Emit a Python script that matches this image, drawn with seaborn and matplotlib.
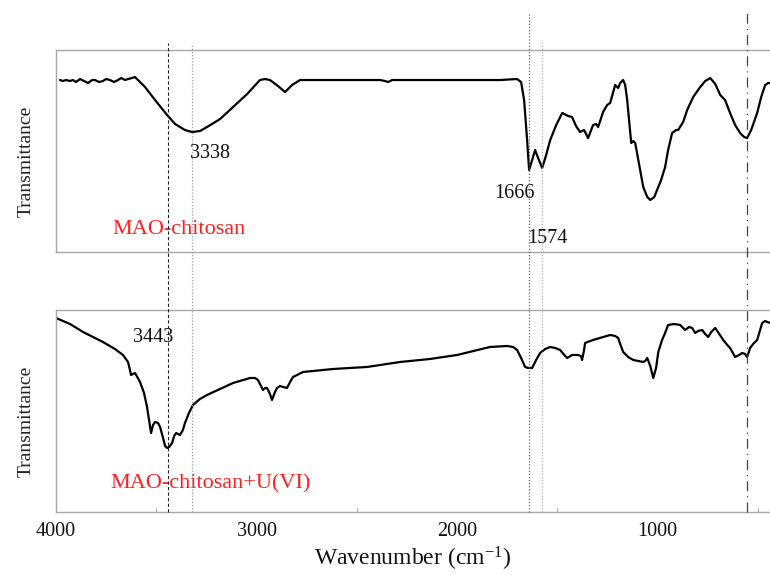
import matplotlib
matplotlib.use("Agg")
import matplotlib.pyplot as plt
import matplotlib.transforms as mtransforms
from matplotlib.lines import Line2D
from matplotlib.ticker import MultipleLocator
import seaborn as sns
import pandas as pd

# ---------------- data ----------------
top_wavenumber = [3980, 3965, 3950, 3930, 3915, 3900, 3880, 3860, 3840, 3820, 3805, 3785, 3766, 3750,
                  3731, 3710, 3691, 3675, 3656, 3640, 3621, 3606, 3556, 3506, 3446,
                  3406, 3357, 3322, 3282, 3247, 3182, 3117, 3047, 2983, 2958, 2933, 2893, 2858, 2823,
                  2783, 2633, 2384, 2359, 2344, 2324, 2085, 1786, 1701, 1681, 1666, 1651, 1641, 1626,
                  1611, 1596, 1576, 1556, 1536, 1506, 1476, 1446, 1427, 1407, 1387, 1367, 1347, 1322,
                  1307, 1297, 1272, 1252, 1237, 1212, 1197, 1187, 1172, 1162, 1152, 1132, 1122, 1112,
                  1092, 1072, 1052, 1037, 1017, 1003, 983, 963, 948, 928, 908, 898, 873, 853, 823,
                  788, 763, 738, 713, 688, 664, 639, 614, 589, 569, 554, 534, 504, 484, 464, 449, 439]
top_transmittance = [172, 171, 172, 171, 172, 170, 173, 171, 169, 172, 172, 170, 171, 173,
                     172, 170, 172, 174, 172, 173, 174, 175, 165, 152, 137,
                     128, 122, 120, 121, 125, 133, 145, 158, 172, 173, 172, 166, 160, 167,
                     172, 172, 172, 171, 170, 172, 172, 172, 173, 170, 152, 112, 82, 92,
                     102, 94, 84, 97, 112, 127, 139, 136, 135, 126, 120, 122, 114, 127,
                     128, 125, 140, 147, 149, 167, 164, 169, 172, 167, 152, 109, 111, 109,
                     87, 65, 55, 52, 55, 62, 72, 85, 102, 119, 122, 122, 130, 142, 155,
                     165, 171, 174, 168, 157, 152, 139, 127, 119, 115, 114, 122, 139, 155, 167, 169, 169]

bot_wavenumber = [4000, 3930, 3865, 3766, 3706, 3666, 3641, 3631, 3626, 3616, 3606, 3581, 3561, 3546,
                  3536, 3526, 3516, 3506, 3491, 3481, 3466, 3456, 3446, 3436, 3421, 3411, 3401, 3382,
                  3367, 3357, 3337, 3317, 3282, 3247, 3182, 3117, 3032, 3007, 2993, 2978, 2968, 2958,
                  2948, 2933, 2923, 2908, 2898, 2883, 2868, 2848, 2833, 2818, 2768, 2618, 2449, 2284,
                  2135, 2000, 1836, 1751, 1721, 1701, 1681, 1661, 1646, 1626, 1606, 1586, 1561, 1536,
                  1511, 1486, 1466, 1451, 1427, 1397, 1382, 1377, 1367, 1362, 1322, 1272, 1237, 1212,
                  1197, 1187, 1172, 1147, 1122, 1097, 1072, 1062, 1052, 1037, 1022, 1008, 997, 978,
                  963, 948, 918, 888, 863, 843, 828, 813, 798, 778, 763, 748, 733, 713, 693, 673,
                  653, 639, 614, 594, 579, 564, 554, 539, 524, 504, 489, 479, 464, 454, 439]
bot_transmittance = [194, 188, 180, 170, 163, 157, 150, 142, 137, 138, 139, 130, 119, 105,
                     92, 79, 87, 90, 89, 85, 74, 66, 64, 65, 69, 76, 79, 77,
                     82, 89, 99, 107, 113, 117, 123, 129, 134, 134, 132, 126, 122, 124,
                     124, 118, 112, 120, 124, 126, 125, 124, 130, 135, 140, 143, 145, 150,
                     153, 157, 165, 166, 165, 162, 154, 145, 144, 144, 152, 159, 163, 165,
                     164, 162, 157, 154, 157, 157, 156, 152, 162, 169, 172, 175, 177, 176,
                     174, 168, 160, 155, 152, 151, 150, 151, 154, 146, 134, 144, 160, 172,
                     179, 187, 188, 187, 182, 185, 184, 179, 181, 182, 178, 175, 180, 184, 178, 172,
                     167, 164, 155, 157, 159, 158, 155, 164, 168, 172, 182, 189, 191, 190, 189]

sample_names = ["MAO-chitosan", "MAO-chitosan+U(VI)"]
peak_labels_top = ["3338", "1666", "1574"]
peak_labels_bottom = ["3443"]
marker_lines = [3443, 3322, 1643, 1576, 555]
x_ticks = [4000, 3000, 2000, 1000]

# ---------------- styling ----------------
sns.set_theme(style="white")
plt.rcParams["font.family"] = ["Liberation Serif", "DejaVu Serif"]
plt.rcParams["mathtext.default"] = "regular"

fig = plt.figure(figsize=(7.7, 5.75), dpi=100)
ax_top = fig.add_axes([0.0727, 0.5617, 0.9273, 0.3513])
ax_bot = fig.add_axes([0.0727, 0.1096, 0.9273, 0.3513])

df_top = pd.DataFrame({"wn": top_wavenumber, "T": top_transmittance})
df_bot = pd.DataFrame({"wn": bot_wavenumber, "T": bot_transmittance})
sns.lineplot(data=df_top, x="wn", y="T", ax=ax_top, color="black", lw=1.6, sort=False)
sns.lineplot(data=df_bot, x="wn", y="T", ax=ax_bot, color="black", lw=1.6, sort=False)

spine_col = "#a8a8a8"
for ax in (ax_top, ax_bot):
    ax.set_xlim(4000, 440)
    ax.set_ylim(0, 202)
    ax.set_yticks([])
    ax.spines["right"].set_visible(False)
    for s in ("top", "left", "bottom"):
        ax.spines[s].set_color(spine_col)
        ax.spines[s].set_linewidth(1.0)
    ax.set_ylabel("Transmittance", fontsize=14, color="#222222")
    ax.yaxis.set_label_coords(-0.03, 0.45)

ax_top.set_xticks([])
ax_top.set_xlabel("")

ax_bot.set_xticks(x_ticks)
ax_bot.xaxis.set_minor_locator(MultipleLocator(500))
ax_bot.tick_params(axis="x", which="major", direction="in", length=5, width=0.8,
                   color=spine_col, labelsize=14.5, pad=7, labelcolor="#111111")
ax_bot.tick_params(axis="x", which="minor", direction="in", length=3, width=0.8,
                   color=spine_col, bottom=True)
ax_bot.set_xlabel("Wavenumber (cm$^{-1}$)", fontsize=17, labelpad=3, color="#111111")

# peak labels
ax_top.text(3232, 99, peak_labels_top[0], fontsize=14.5, ha="center", va="center", color="#111111")
ax_top.text(1716, 59, peak_labels_top[1], fontsize=14.5, ha="center", va="center", color="#111111")
ax_top.text(1551, 14, peak_labels_top[2], fontsize=14.5, ha="center", va="center", color="#111111")
ax_bot.text(3516, 174, peak_labels_bottom[0], fontsize=14.5, ha="center", va="center", color="#111111")

# sample names
ax_top.text(3721, 23, sample_names[0], fontsize=16, ha="left", va="center", color="#ff1f1f")
ax_bot.text(3731, 28, sample_names[1], fontsize=16, ha="left", va="center", color="#ff1f1f")

# vertical marker lines spanning both panels
trans = mtransforms.blended_transform_factory(ax_bot.transData, fig.transFigure)
styles = [
    dict(color="#222222", ls=(0, (3, 2)), lw=0.8, top=0.925),
    dict(color="#9a9a9a", ls=(0, (1, 1.5)), lw=0.9, top=0.925),
    dict(color="#666666", ls=(0, (1, 1.5)), lw=0.9, top=0.979),
    dict(color="#b0b0b0", ls=(0, (1, 1.5)), lw=0.9, top=0.930),
    dict(color="#444444", ls=(0, (8, 4, 1, 4)), lw=0.9, top=0.979),
]
for xv, st in zip(marker_lines, styles):
    fig.add_artist(Line2D([xv, xv], [0.1096, st["top"]], transform=trans,
                          color=st["color"], ls=st["ls"], lw=st["lw"]))

fig.savefig("out.png", dpi=100)
